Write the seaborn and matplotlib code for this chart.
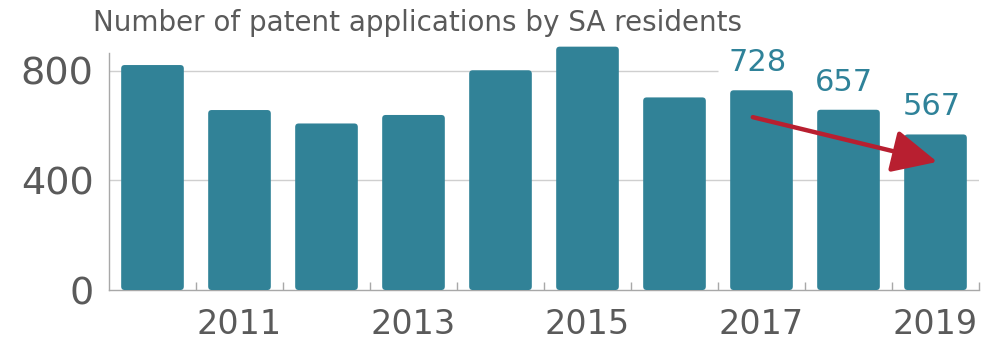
import matplotlib
matplotlib.use("Agg")
import matplotlib.pyplot as plt
from matplotlib.patches import FancyBboxPatch, FancyArrowPatch
import seaborn as sns
import pandas as pd

# Patent applications filed by SA residents, per year
years = [2010, 2011, 2012, 2013, 2014, 2015, 2016, 2017, 2018, 2019]
applications = [820, 656, 607, 638, 801, 887, 702, 728, 657, 567]
labelled_years = [2017, 2018, 2019]
shown_year_ticks = [2011, 2013, 2015, 2017, 2019]
y_ticks = [0, 400, 800]

BAR = "#318297"
LABEL = "#2f8299"
GREY_TEXT = "#5a5a5a"
GRID = "#cfcfcf"
AXIS = "#a8a8a8"
ARROW = "#b81f30"

df = pd.DataFrame({"year": [str(y) for y in years], "applications": applications})

sns.set_theme(style="white")
plt.rcParams["font.family"] = ["DejaVu Sans"]

fig = plt.figure(figsize=(9.92, 3.42), dpi=100)
ax = fig.add_axes([109 / 992, 0.152, (979 - 109) / 992, 0.714])

sns.barplot(data=df, x="year", y="applications", color=BAR, width=0.72,
            saturation=1, ax=ax, zorder=3)

# swap the square bars for rounded-corner ones
x_px_per_unit = 87.0
y_px_per_unit = 0.2744
r_px = 3.5
for bar in list(ax.patches):
    x0, y0 = bar.get_x(), bar.get_y()
    w, h = bar.get_width(), bar.get_height()
    rx = r_px / x_px_per_unit
    ry = r_px / y_px_per_unit
    rounded = FancyBboxPatch((x0, y0), w, h,
                             boxstyle=f"round,pad=0,rounding_size={rx}",
                             mutation_aspect=ry / rx,
                             fc=BAR, ec="none", zorder=3)
    bar.remove()
    ax.add_patch(rounded)

ax.set_xlim(-0.5, len(years) - 0.5)
ax.set_ylim(0, 890)

# horizontal gridlines; the top one stops before the annotated bars
first_lab = years.index(labelled_years[0])
for v in y_ticks[1:]:
    xmax = first_lab - 0.5 if v == y_ticks[-1] else len(years) - 0.5
    ax.hlines(v, -0.5, xmax, color=GRID, lw=1.0, zorder=1)

ax.set_yticks(y_ticks)
ax.set_yticklabels([str(v) for v in y_ticks])
ax.tick_params(axis="y", length=0, pad=11, labelsize=27.5, labelcolor=GREY_TEXT)

ax.set_xticks([years.index(y) for y in shown_year_ticks])
ax.set_xticklabels([str(y) for y in shown_year_ticks])
ax.set_xticks([i + 0.5 for i in range(len(years))], minor=True)
ax.tick_params(axis="x", which="major", length=0, pad=13, labelsize=24,
               labelcolor=GREY_TEXT)
ax.tick_params(axis="x", which="minor", direction="in", length=6, width=1,
               color=AXIS, bottom=True)

ax.set_xlabel("")
ax.set_ylabel("")
for side in ("top", "right"):
    ax.spines[side].set_visible(False)
ax.spines["left"].set_color(AXIS)
ax.spines["bottom"].set_color(AXIS)
ax.spines["left"].set_bounds(0, 865)
ax.spines["left"].set_linewidth(1)
ax.spines["bottom"].set_linewidth(1)

# value labels on the latest years
for yr in labelled_years:
    i = years.index(yr)
    v = applications[i]
    ax.annotate(str(v), (i, v), xytext=(-3, 9.5), textcoords="offset points",
                ha="center", va="bottom", fontsize=22, color=LABEL, zorder=5)

# downward trend arrow from 2017 to 2019
i0, i1 = years.index(labelled_years[0]), years.index(labelled_years[-1])
arrow = FancyArrowPatch((i0 - 0.1, applications[i0] - 98),
                        (i1 + 0.02, applications[i1] - 100),
                        arrowstyle="-|>,head_length=2.3,head_width=1.1",
                        mutation_scale=12, color=ARROW, lw=3.2,
                        shrinkA=0, shrinkB=0, zorder=6)
ax.add_patch(arrow)

fig.text(93 / 992, 1 - 31 / 342, "Number of patent applications by SA residents",
         fontsize=20, color=GREY_TEXT, ha="left", va="baseline")

fig.savefig("out.png", dpi=100, facecolor="white")
